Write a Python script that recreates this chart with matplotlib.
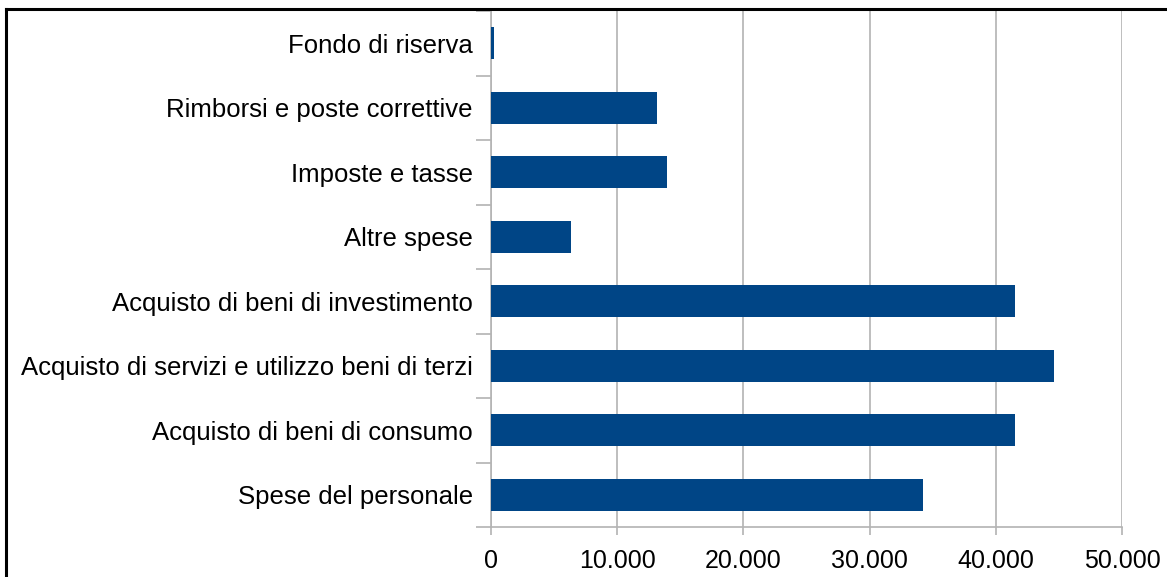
import matplotlib.pyplot as plt
import numpy as np
from matplotlib.lines import Line2D

plt.rcParams['font.family'] = ['Liberation Sans', 'DejaVu Sans']

categorie = ['Spese del personale', 'Acquisto di beni di consumo',
             'Acquisto di servizi e utilizzo beni di terzi',
             'Acquisto di beni di investimento', 'Altre spese',
             'Imposte e tasse', 'Rimborsi e poste correttive', 'Fondo di riserva']
valori = [34230, 41520, 44610, 41520, 6340, 13950, 13150, 250]
xticks = [0, 10000, 20000, 30000, 40000, 50000]

fig = plt.figure(figsize=(11.67, 5.77), dpi=100)
ax = fig.add_axes([491/1167, 1 - 527/577, 631/1167, 516/577])

y = np.arange(len(categorie))
ax.barh(y, valori, height=0.5, color='#004586', zorder=3)

ax.set_xlim(0, 50000)
ax.set_ylim(-0.5, len(categorie) - 0.5)
ax.set_xticks(xticks)
ax.set_xticklabels([f'{v:,}'.replace(',', '.') for v in xticks])
ax.set_yticks(y)
ax.set_yticklabels(categorie)
ax.set_yticks(np.arange(-0.5, len(categorie)), minor=True)

ax.grid(axis='x', color='#b3b3b3', linewidth=1.2, zorder=0)
ax.tick_params(axis='y', which='major', length=0, pad=13, labelsize=18.5)
ax.tick_params(axis='y', which='minor', length=11, color='#b3b3b3', width=1.2)
ax.tick_params(axis='x', length=6, color='#b3b3b3', width=1.2, pad=10, labelsize=18)

for s in ['top', 'right']:
    ax.spines[s].set_visible(False)
for s in ['left', 'bottom']:
    ax.spines[s].set_color('#b3b3b3')
    ax.spines[s].set_linewidth(1.2)

# cornice nera (tagliata a destra e in basso)
fig.add_artist(Line2D([6/1167, 1], [1 - 9/577, 1 - 9/577], color='black', linewidth=2.2))
fig.add_artist(Line2D([6/1167, 6/1167], [0, 1 - 9/577], color='black', linewidth=2.2))

fig.savefig('out.png')
